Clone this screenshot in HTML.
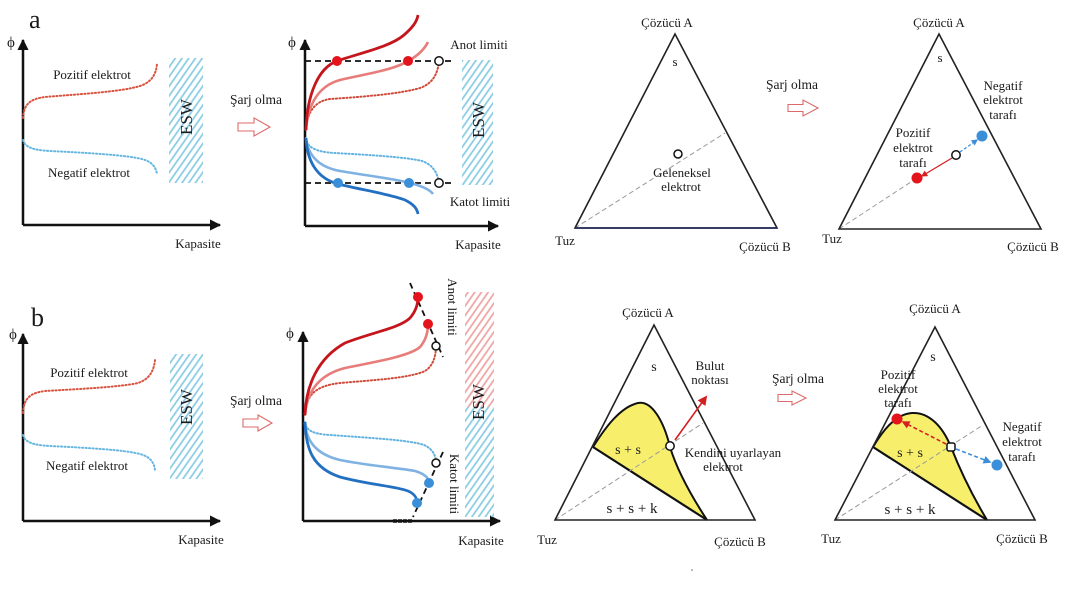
<!DOCTYPE html>
<html><head><meta charset="utf-8"><style>
html,body{margin:0;padding:0;background:#fff;}
svg{display:block;}
text{font-family:"Liberation Serif",serif;fill:#1a1a1a;}
</style></head><body>
<svg width="1068" height="601" viewBox="0 0 1068 601" xmlns="http://www.w3.org/2000/svg">
<defs>
<pattern id="hb" patternUnits="userSpaceOnUse" width="5.5" height="5.5" patternTransform="rotate(35)">
<line x1="1" y1="0" x2="1" y2="5.5" stroke="#86cbe3" stroke-width="1.7"/></pattern>
<pattern id="hr" patternUnits="userSpaceOnUse" width="5.5" height="5.5" patternTransform="rotate(35)">
<line x1="1" y1="0" x2="1" y2="5.5" stroke="#eea2a2" stroke-width="1.7"/></pattern>
<marker id="ah" viewBox="0 0 10 10" refX="9" refY="5" markerWidth="4.5" markerHeight="4.5" orient="auto"><path d="M0,0 L10,5 L0,10 Z" fill="#111"/></marker>
<marker id="ar" viewBox="0 0 10 10" refX="8" refY="5" markerWidth="5" markerHeight="5" orient="auto"><path d="M0,0 L10,5 L0,10 Z" fill="#d42020"/></marker>
<marker id="ab" viewBox="0 0 10 10" refX="8" refY="5" markerWidth="5" markerHeight="5" orient="auto"><path d="M0,0 L10,5 L0,10 Z" fill="#3a8fd8"/></marker>
<marker id="arr" viewBox="0 0 10 10" refX="8" refY="5" markerWidth="6" markerHeight="6" orient="auto"><path d="M0,0 L10,5 L0,10 Z" fill="#d42020"/></marker>
</defs>
<rect width="1068" height="601" fill="#fff"/>

<!-- ===== Panel a1 ===== -->
<text x="29" y="28" font-size="26">a</text>
<text x="7" y="47" font-size="15">ϕ</text>
<line x1="23" y1="225" x2="23" y2="40" stroke="#111" stroke-width="2.5" marker-end="url(#ah)"/>
<line x1="23" y1="225" x2="220" y2="225" stroke="#111" stroke-width="2.5" marker-end="url(#ah)"/>
<path d="M23,118 C24,104 30,99 45,97 C80,94 120,92 140,86 C152,82 156,74 157,64" fill="none" stroke="#d8533f" stroke-width="2" stroke-dasharray="1.2 2.3" stroke-linecap="round"/>
<path d="M23,140 C25,147 32,150 50,151 C90,153 125,155 142,159 C153,162 156,168 157,174" fill="none" stroke="#66b6e0" stroke-width="2" stroke-dasharray="1.2 2.3" stroke-linecap="round"/>
<text x="92" y="79" font-size="13" text-anchor="middle">Pozitif elektrot</text>
<text x="89" y="177" font-size="13" text-anchor="middle">Negatif elektrot</text>
<text x="198" y="248" font-size="13" text-anchor="middle">Kapasite</text>
<rect x="169" y="58" width="34" height="125" fill="url(#hb)"/>
<text transform="translate(192,117) rotate(-90)" font-size="17" text-anchor="middle">ESW</text>

<!-- arrow 1 -->
<text x="256" y="104" font-size="13.5" text-anchor="middle">Şarj olma</text>
<path d="M238,123 L254,123 L254,118 L270,127 L254,136 L254,131 L238,131 Z" fill="#fff" stroke="#dc6a6a" stroke-width="1.1"/>

<!-- ===== Panel a2 ===== -->
<text x="288" y="47" font-size="15">ϕ</text>
<line x1="305" y1="226" x2="305" y2="40" stroke="#111" stroke-width="2.5" marker-end="url(#ah)"/>
<line x1="305" y1="226" x2="498" y2="226" stroke="#111" stroke-width="2.5" marker-end="url(#ah)"/>
<line x1="305" y1="61" x2="452" y2="61" stroke="#111" stroke-width="1.8" stroke-dasharray="6 4"/>
<line x1="305" y1="183" x2="452" y2="183" stroke="#111" stroke-width="1.8" stroke-dasharray="6 4"/>
<path d="M306,130 C307,112 315,101 330,99 C360,97 400,94 420,88 C434,83 438,72 439,61" fill="none" stroke="#d04a3a" stroke-width="2" stroke-dasharray="1.2 2.3" stroke-linecap="round"/>
<path d="M306,130 C308,105 318,86 340,80 C365,74 395,70 410,60 C420,54 425,48 428,42" fill="none" stroke="#e77c7a" stroke-width="2.6"/>
<path d="M306,130 C307,95 318,68 337,61 C360,53 390,47 404,35 C412,28 417,22 418,15" fill="none" stroke="#c4161c" stroke-width="2.8"/>
<path d="M306,138 C307,147 315,152 335,153 C370,155 405,157 422,161 C434,165 438,175 439,183" fill="none" stroke="#62b2e0" stroke-width="2" stroke-dasharray="1.2 2.3" stroke-linecap="round"/>
<path d="M306,138 C308,155 318,167 340,171 C370,176 395,179 410,183 C422,186 430,190 433,194" fill="none" stroke="#7fb2e2" stroke-width="2.6"/>
<path d="M306,138 C307,160 316,178 338,184 C362,190 390,194 405,200 C413,204 417,208 418,214" fill="none" stroke="#2370c2" stroke-width="2.8"/>
<circle cx="337" cy="61" r="5" fill="#e3141c"/>
<circle cx="408" cy="61" r="5" fill="#e3141c"/>
<circle cx="439" cy="61" r="4.2" fill="#fff" stroke="#111" stroke-width="1.5"/>
<circle cx="338" cy="183" r="5" fill="#3a8fd8"/>
<circle cx="409" cy="183" r="5" fill="#3a8fd8"/>
<circle cx="439" cy="183" r="4.2" fill="#fff" stroke="#111" stroke-width="1.5"/>
<text x="479" y="49" font-size="13" text-anchor="middle">Anot limiti</text>
<text x="480" y="206" font-size="13" text-anchor="middle">Katot limiti</text>
<text x="478" y="249" font-size="13" text-anchor="middle">Kapasite</text>
<rect x="462" y="60" width="31" height="125" fill="url(#hb)"/>
<text transform="translate(484,120) rotate(-90)" font-size="17" text-anchor="middle">ESW</text>

<!-- ===== Panel a3 ternary ===== -->
<text x="667" y="27" font-size="13" text-anchor="middle">Çözücü A</text>
<line x1="575" y1="228" x2="725" y2="133" stroke="#999" stroke-width="1" stroke-dasharray="5 3"/>
<path d="M675,34 L777,228 L575,228 Z" fill="none" stroke="#222" stroke-width="1.6"/>
<line x1="575" y1="228" x2="777" y2="228" stroke="#283060" stroke-width="1.8"/>
<text x="675" y="66" font-size="13" text-anchor="middle">s</text>
<circle cx="678" cy="154" r="4" fill="#fff" stroke="#111" stroke-width="1.5"/>
<text x="682" y="177" font-size="13" text-anchor="middle">Geleneksel</text>
<text x="681" y="191" font-size="13" text-anchor="middle">elektrot</text>
<text x="565" y="245" font-size="13" text-anchor="middle">Tuz</text>
<text x="765" y="251" font-size="13" text-anchor="middle">Çözücü B</text>

<!-- arrow 2 -->
<text x="792" y="89" font-size="13.5" text-anchor="middle">Şarj olma</text>
<path d="M788,104.5 L803,104.5 L803,100 L818,108 L803,116 L803,111.5 L788,111.5 Z" fill="#fff" stroke="#dc6a6a" stroke-width="1.1"/>

<!-- ===== Panel a4 ternary ===== -->
<text x="939" y="27" font-size="13" text-anchor="middle">Çözücü A</text>
<line x1="839" y1="229" x2="917" y2="178" stroke="#999" stroke-width="1" stroke-dasharray="5 3"/>
<path d="M939,34 L1041,229 L839,229 Z" fill="none" stroke="#222" stroke-width="1.6"/>
<text x="940" y="62" font-size="13" text-anchor="middle">s</text>
<line x1="952" y1="158" x2="922" y2="176" stroke="#d42020" stroke-width="1.3" marker-end="url(#ar)"/>
<line x1="960" y1="152" x2="977" y2="140" stroke="#3a8fd8" stroke-width="1.3" stroke-dasharray="3 2" marker-end="url(#ab)"/>
<circle cx="917" cy="178" r="5.5" fill="#e3141c"/>
<circle cx="982" cy="136" r="5.5" fill="#3a8fd8"/>
<circle cx="956" cy="155" r="4.2" fill="#fff" stroke="#111" stroke-width="1.5"/>
<text x="1003" y="90" font-size="13" text-anchor="middle">Negatif</text>
<text x="1003" y="104" font-size="13" text-anchor="middle">elektrot</text>
<text x="1003" y="119" font-size="13" text-anchor="middle">tarafı</text>
<text x="913" y="137" font-size="13" text-anchor="middle">Pozitif</text>
<text x="913" y="152" font-size="13" text-anchor="middle">elektrot</text>
<text x="913" y="167" font-size="13" text-anchor="middle">tarafı</text>
<text x="832" y="243" font-size="13" text-anchor="middle">Tuz</text>
<text x="1033" y="251" font-size="13" text-anchor="middle">Çözücü B</text>

<!-- ===== Panel b1 ===== -->
<text x="31" y="326" font-size="26">b</text>
<text x="9" y="339" font-size="15">ϕ</text>
<line x1="23" y1="521" x2="23" y2="334" stroke="#111" stroke-width="2.5" marker-end="url(#ah)"/>
<line x1="23" y1="521" x2="220" y2="521" stroke="#111" stroke-width="2.5" marker-end="url(#ah)"/>
<path d="M23,413 C24,398 30,393 45,391 C80,389 120,387 138,383 C150,379 154,370 155,360" fill="none" stroke="#d8533f" stroke-width="2" stroke-dasharray="1.2 2.3" stroke-linecap="round"/>
<path d="M23,435 C25,442 32,445 50,446 C90,448 125,450 140,454 C151,457 154,463 155,470" fill="none" stroke="#66b6e0" stroke-width="2" stroke-dasharray="1.2 2.3" stroke-linecap="round"/>
<text x="89" y="377" font-size="13" text-anchor="middle">Pozitif elektrot</text>
<text x="87" y="470" font-size="13" text-anchor="middle">Negatif elektrot</text>
<text x="201" y="544" font-size="13" text-anchor="middle">Kapasite</text>
<rect x="170" y="354" width="33" height="125" fill="url(#hb)"/>
<text transform="translate(192,407) rotate(-90)" font-size="17" text-anchor="middle">ESW</text>

<!-- arrow 3 -->
<text x="256" y="405" font-size="13.5" text-anchor="middle">Şarj olma</text>
<path d="M243,419 L258,419 L258,415 L272,423 L258,431 L258,427 L243,427 Z" fill="#fff" stroke="#dc6a6a" stroke-width="1.1"/>

<!-- ===== Panel b2 ===== -->
<text x="286" y="338" font-size="15">ϕ</text>
<line x1="303" y1="521" x2="303" y2="332" stroke="#111" stroke-width="2.5" marker-end="url(#ah)"/>
<line x1="303" y1="521" x2="500" y2="521" stroke="#111" stroke-width="2.5" marker-end="url(#ah)"/>
<line x1="393" y1="521" x2="413" y2="521" stroke="#111" stroke-width="3.5" stroke-dasharray="4 1"/>
<line x1="410" y1="283" x2="443" y2="357" stroke="#111" stroke-width="1.8" stroke-dasharray="6 4"/>
<line x1="443" y1="452" x2="413" y2="517" stroke="#111" stroke-width="1.8" stroke-dasharray="6 4"/>
<path d="M305,415 C306,395 315,386 340,383 C375,380 410,378 425,371 C433,366 436,356 436,346" fill="none" stroke="#d04a3a" stroke-width="2" stroke-dasharray="1.2 2.3" stroke-linecap="round"/>
<path d="M305,415 C307,392 318,375 345,368 C375,362 410,356 420,347 C426,340 428,332 428,324" fill="none" stroke="#e77c7a" stroke-width="2.6"/>
<path d="M305,415 C306,385 318,358 345,343 C370,333 400,328 410,318 C416,311 418,303 418,297" fill="none" stroke="#c4161c" stroke-width="2.8"/>
<path d="M305,422 C306,430 312,434 330,435 C370,438 410,440 424,445 C433,449 436,456 436,463" fill="none" stroke="#62b2e0" stroke-width="2" stroke-dasharray="1.2 2.3" stroke-linecap="round"/>
<path d="M305,422 C306,440 315,454 340,460 C370,466 400,468 415,471 C425,474 429,478 429,483" fill="none" stroke="#7fb2e2" stroke-width="2.6"/>
<path d="M305,422 C306,450 313,468 340,477 C370,485 395,486 408,491 C415,494 417,498 417,503" fill="none" stroke="#2370c2" stroke-width="2.8"/>
<circle cx="418" cy="297" r="5" fill="#e3141c"/>
<circle cx="428" cy="324" r="5" fill="#e3141c"/>
<circle cx="436" cy="346" r="4" fill="#fff" stroke="#111" stroke-width="1.5"/>
<circle cx="436" cy="463" r="4" fill="#fff" stroke="#111" stroke-width="1.5"/>
<circle cx="429" cy="483" r="5" fill="#3a8fd8"/>
<circle cx="417" cy="503" r="5" fill="#3a8fd8"/>
<text transform="translate(448,307) rotate(90)" font-size="13" text-anchor="middle">Anot limiti</text>
<text transform="translate(450,484) rotate(90)" font-size="13" text-anchor="middle">Katot limiti</text>
<text x="481" y="545" font-size="13" text-anchor="middle">Kapasite</text>
<rect x="465" y="292" width="29" height="115" fill="url(#hr)"/>
<rect x="465" y="407" width="29" height="110" fill="url(#hb)"/>
<text transform="translate(484,402) rotate(-90)" font-size="17" text-anchor="middle">ESW</text>

<!-- ===== Panel b3 ternary ===== -->
<text x="648" y="317" font-size="13" text-anchor="middle">Çözücü A</text>
<path d="M593,447 C605,428 620,407 638,403 C652,400 664,422 670,447 C677,470 692,497 707,520 Z" fill="#f7ef6c" stroke="none"/>
<path d="M593,447 C605,428 620,407 638,403 C652,400 664,422 670,447 C677,470 692,497 707,520" fill="none" stroke="#111" stroke-width="2"/>
<line x1="593" y1="447" x2="707" y2="520" stroke="#111" stroke-width="2.2"/>
<line x1="555" y1="520" x2="703" y2="423" stroke="#999" stroke-width="1" stroke-dasharray="5 3"/>
<path d="M654,325 L755,520 L555,520 Z" fill="none" stroke="#222" stroke-width="1.6"/>
<line x1="675" y1="440" x2="706" y2="397" stroke="#d42020" stroke-width="1.6" marker-end="url(#arr)"/>
<circle cx="670" cy="446" r="4.2" fill="#fff" stroke="#111" stroke-width="1.5"/>
<text x="654" y="371" font-size="14" text-anchor="middle">s</text>
<text x="710" y="370" font-size="13" text-anchor="middle">Bulut</text>
<text x="710" y="384" font-size="13" text-anchor="middle">noktası</text>
<text x="628" y="454" font-size="14" text-anchor="middle">s + s</text>
<text x="733" y="457" font-size="13" text-anchor="middle">Kendini uyarlayan</text>
<text x="723" y="471" font-size="13" text-anchor="middle">elektrot</text>
<text x="632" y="513" font-size="15" text-anchor="middle">s + s + k</text>
<text x="547" y="544" font-size="13" text-anchor="middle">Tuz</text>
<text x="740" y="546" font-size="13" text-anchor="middle">Çözücü B</text>
<circle cx="692" cy="570" r="0.8" fill="#666"/>

<!-- arrow 4 -->
<text x="798" y="383" font-size="13.5" text-anchor="middle">Şarj olma</text>
<path d="M778,394.5 L792,394.5 L792,391 L806,398 L792,405 L792,401.5 L778,401.5 Z" fill="#fff" stroke="#dc6a6a" stroke-width="1.1"/>

<!-- ===== Panel b4 ternary ===== -->
<text x="935" y="313" font-size="13" text-anchor="middle">Çözücü A</text>
<path d="M873,447 C882,432 895,414 912,413 C928,412 942,425 951,447 C960,470 972,495 987,520 Z" fill="#f7ef6c" stroke="none"/>
<path d="M873,447 C882,432 895,414 912,413 C928,412 942,425 951,447 C960,470 972,495 987,520" fill="none" stroke="#111" stroke-width="2"/>
<line x1="873" y1="447" x2="987" y2="520" stroke="#111" stroke-width="2.2"/>
<line x1="835" y1="520" x2="983" y2="425" stroke="#999" stroke-width="1" stroke-dasharray="5 3"/>
<path d="M935,327 L1035,520 L835,520 Z" fill="none" stroke="#222" stroke-width="1.6"/>
<line x1="946" y1="444" x2="903" y2="422" stroke="#d42020" stroke-width="1.6" stroke-dasharray="4 2.5" marker-end="url(#ar)"/>
<line x1="956" y1="449" x2="990" y2="462" stroke="#3a8fd8" stroke-width="1.6" stroke-dasharray="4 2.5" marker-end="url(#ab)"/>
<circle cx="897" cy="419" r="5.5" fill="#e3141c"/>
<circle cx="997" cy="465" r="5.5" fill="#3a8fd8"/>
<rect x="947" y="443" width="8" height="8" fill="#fff" stroke="#111" stroke-width="1.5" rx="2"/>
<text x="933" y="361" font-size="14" text-anchor="middle">s</text>
<text x="898" y="379" font-size="13" text-anchor="middle">Pozitif</text>
<text x="898" y="393" font-size="13" text-anchor="middle">elektrot</text>
<text x="898" y="407" font-size="13" text-anchor="middle">tarafı</text>
<text x="1022" y="431" font-size="13" text-anchor="middle">Negatif</text>
<text x="1022" y="446" font-size="13" text-anchor="middle">elektrot</text>
<text x="1022" y="461" font-size="13" text-anchor="middle">tarafı</text>
<text x="910" y="457" font-size="14" text-anchor="middle">s + s</text>
<text x="910" y="514" font-size="15" text-anchor="middle">s + s + k</text>
<text x="831" y="543" font-size="13" text-anchor="middle">Tuz</text>
<text x="1022" y="543" font-size="13" text-anchor="middle">Çözücü B</text>
</svg>
</body></html>
